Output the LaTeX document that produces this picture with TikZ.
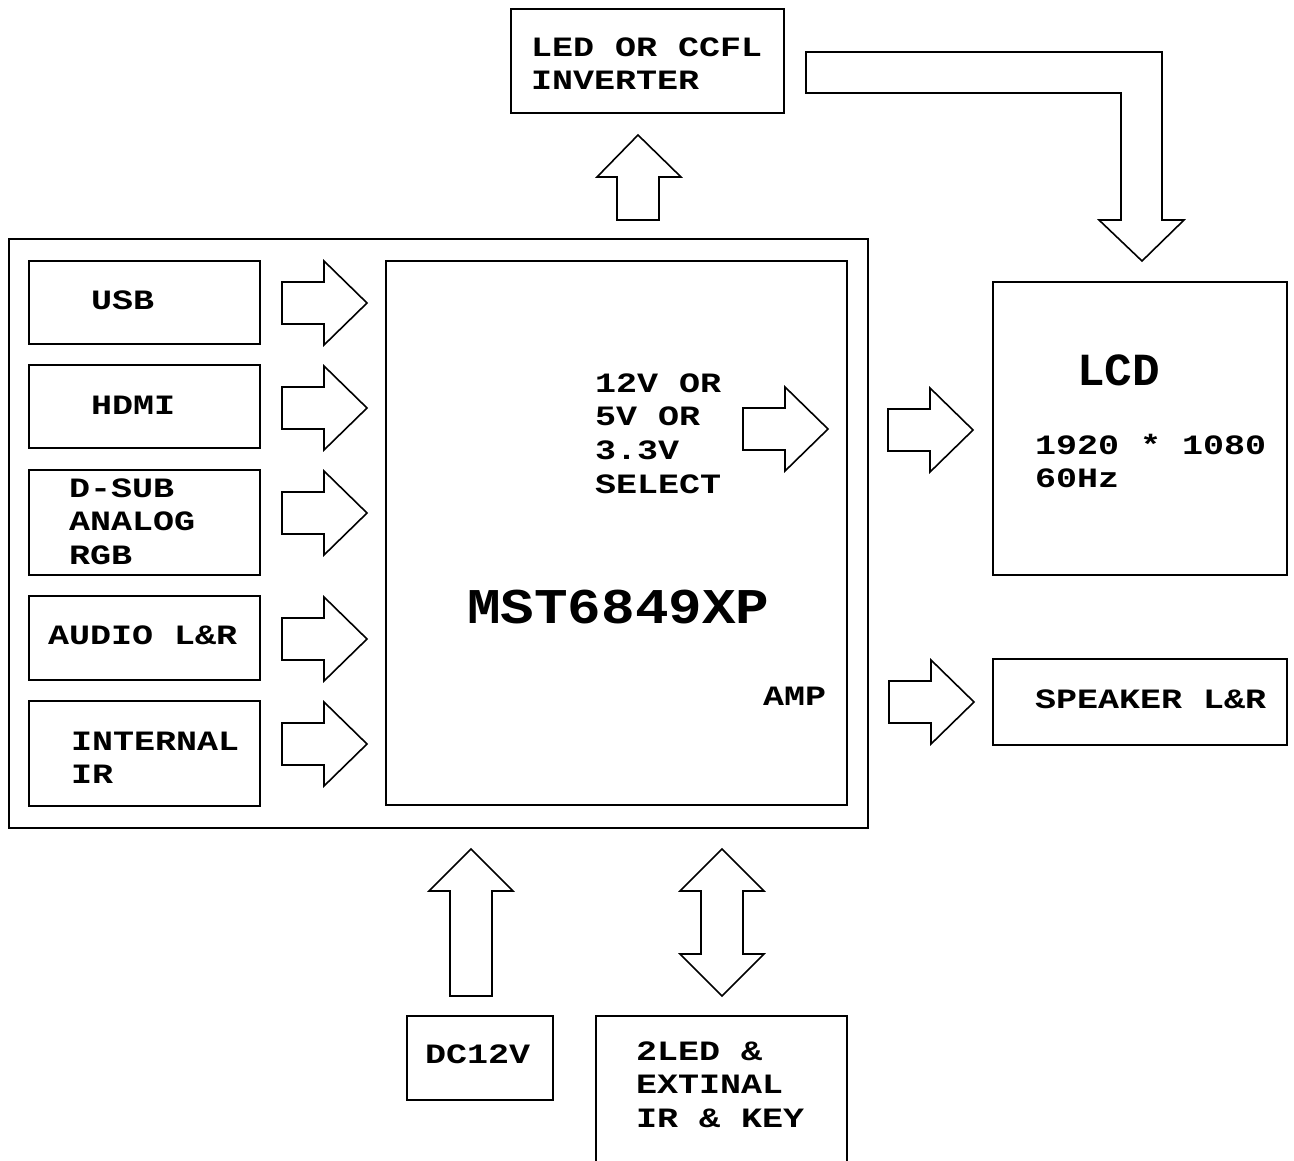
\documentclass[tikz,border=0pt]{standalone}
\usepackage{fontspec}
\usetikzlibrary{fit}
\newfontfamily\courS[FakeStretch=1.25]{Liberation Mono}
\newfontfamily\courM[FakeStretch=1.12]{Liberation Mono}
\newfontfamily\courN{Liberation Mono}
\newcommand\mlines[1]{\vtop{\halign{##\hfil\cr#1\crcr}}}
\tikzset{
  box/.style={draw=black, line width=1.2pt, inner sep=0pt, outer sep=0pt},
  txt/.style={anchor=base west, inner sep=0pt, outer sep=0pt,
    font=\courS\bfseries\fontsize{21}{25.3}\selectfont},
  fat/.style={draw=black, line width=1.2pt, fill=white, line join=miter},
  rarrow/.pic={\draw[fat] (0,-21) -- (42,-21) -- (42,-42) -- (85,0) -- (42,42) -- (42,21) -- (0,21) -- cycle;},
}
\begin{document}
\begin{tikzpicture}[x=0.75pt,y=-0.75pt]
\clip (0,0) rectangle (1294,1160);
\fill[white] (0,0) rectangle (1294,1160);

% boxes
\node[box, fit={(9,239) (868,828)}] (board) {};
\node[box, fit={(386,261) (847,805)}] (chip) {};
\node[box, fit={(29,261) (260,344)}] (usb) {};
\node[box, fit={(29,365) (260,448)}] (hdmi) {};
\node[box, fit={(29,470) (260,575)}] (dsub) {};
\node[box, fit={(29,596) (260,680)}] (audio) {};
\node[box, fit={(29,701) (260,806)}] (ir) {};
\node[box, fit={(511,9) (784,113)}] (inv) {};
\node[box, fit={(993,282) (1287,575)}] (lcd) {};
\node[box, fit={(993,659) (1287,745)}] (spk) {};
\node[box, fit={(407,1016) (553,1100)}] (dc) {};
\node[box, fit={(596,1016) (847,1180)}] (key) {};

% texts
\node[txt] (tusb) at (91,309) {USB};
\node[txt] (thdmi) at (91,414) {HDMI};
\node[txt] (tdsub) at (69,497) {\mlines{D-SUB\cr ANALOG\cr RGB}};
\node[txt] (taudio) at (48,644) {AUDIO L\&R};
\node[txt] (tir) at (71,750) {\mlines{INTERNAL\cr IR}};
\node[txt] (tsel) at (595,392) {\mlines{12V OR\cr 5V OR\cr 3.3V\cr SELECT}};
\node[txt, font=\courM\bfseries\fontsize{37.5}{40}\selectfont] (tchip) at (467,623) {MST6849XP};
\node[txt] (tamp) at (763,705) {AMP};
\node[txt] (tinv) at (531,56) {\mlines{LED OR CCFL\cr INVERTER}};
\node[txt, font=\courN\bfseries\fontsize{34.5}{37}\selectfont] (tlcd) at (1077,385) {LCD};
\node[txt] (tres) at (1035,454) {\mlines{1920 * 1080\cr 60Hz}};
\node[txt] (tspk) at (1035,708) {SPEAKER L\&R};
\node[txt] (tdc) at (425,1063) {DC12V};
\node[txt] (tkey) at (636,1060) {\mlines{2LED \&\cr EXTINAL\cr IR \& KEY}};

% input arrows
\pic at (282,303) {rarrow};
\pic at (282,408) {rarrow};
\pic at (282,513) {rarrow};
\pic at (282,639) {rarrow};
\pic at (282,744) {rarrow};
% output arrows
\pic at (743,429) {rarrow};
\pic at (888,430) {rarrow};
\pic at (889,702) {rarrow};

% up arrow to inverter
\draw[fat] (617,220) -- (617,177) -- (597,177) -- (638,135) -- (681,177) -- (659,177) -- (659,220) -- cycle;
% bent arrow inverter -> LCD
\draw[fat] (806,52) -- (1162,52) -- (1162,220) -- (1184,220) -- (1142,261) -- (1099,220) -- (1121,220) -- (1121,93) -- (806,93) -- cycle;
% DC12V up arrow
\draw[fat] (450,996) -- (450,891) -- (429,891) -- (471,849) -- (513,891) -- (492,891) -- (492,996) -- cycle;
% double arrow
\draw[fat] (701,954) -- (701,891) -- (680,891) -- (722,849) -- (764,891) -- (743,891) -- (743,954) -- (764,954) -- (722,996) -- (680,954) -- cycle;
\end{tikzpicture}
\end{document}
